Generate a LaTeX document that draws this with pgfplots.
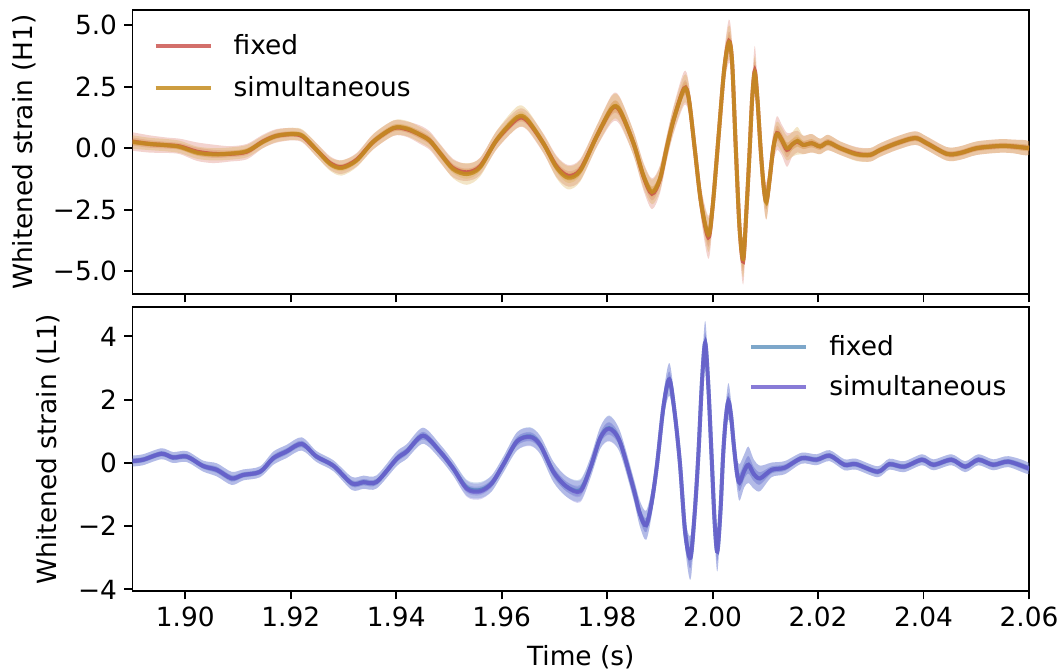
\documentclass[border=0pt]{standalone}
\usepackage{fontspec}
\setmainfont{DejaVu Sans}
\usepackage{pgfplots}
\pgfplotsset{compat=1.18}
\usepackage{pgfplotstable}

\definecolor{hfixed}{RGB}{200,75,70}
\definecolor{hsim}{RGB}{196,140,30}
\definecolor{hfixedband}{RGB}{215,110,95}
\definecolor{hsimband}{RGB}{215,170,70}
\definecolor{lfixed}{RGB}{70,130,180}
\definecolor{lsim}{RGB}{106,90,205}
\definecolor{lfixedband}{RGB}{90,140,200}
\definecolor{lsimband}{RGB}{120,110,215}

% H1 whitened strain: time, fixed, fixed half-width, simultaneous, simultaneous half-width
\pgfplotstableread{
t hf hfw hs hsw
1.8900 0.27 0.30 0.25 0.22
1.8933 0.17 0.28 0.17 0.20
1.8965 0.12 0.25 0.12 0.20
1.8990 0.07 0.25 0.05 0.20
1.9022 -0.14 0.30 -0.18 0.20
1.9053 -0.23 0.30 -0.25 0.20
1.9085 -0.23 0.25 -0.22 0.20
1.9117 -0.14 0.25 -0.12 0.20
1.9147 0.27 0.22 0.25 0.20
1.9173 0.50 0.22 0.50 0.20
1.9204 0.57 0.20 0.58 0.20
1.9223 0.47 0.20 0.50 0.20
1.9249 -0.07 0.22 -0.07 0.22
1.9275 -0.61 0.22 -0.65 0.22
1.9297 -0.77 0.22 -0.80 0.25
1.9325 -0.47 0.22 -0.50 0.22
1.9357 0.27 0.25 0.27 0.25
1.9395 0.81 0.25 0.82 0.25
1.9420 0.77 0.25 0.80 0.25
1.9445 0.55 0.30 0.55 0.25
1.9464 0.30 0.30 0.30 0.25
1.9483 -0.20 0.30 -0.20 0.28
1.9508 -0.81 0.30 -0.85 0.30
1.9534 -0.98 0.28 -1.05 0.35
1.9559 -0.74 0.28 -0.78 0.30
1.9591 0.34 0.30 0.35 0.30
1.9629 1.18 0.30 1.25 0.35
1.9648 1.12 0.30 1.17 0.32
1.9679 0.20 0.32 0.20 0.30
1.9704 -0.74 0.35 -0.78 0.35
1.9726 -1.12 0.35 -1.20 0.38
1.9749 -0.88 0.35 -0.92 0.35
1.9780 0.47 0.35 0.47 0.35
1.9809 1.60 0.45 1.62 0.40
1.9824 1.52 0.45 1.55 0.40
1.9850 0.20 0.40 0.20 0.40
1.9869 -1.15 0.45 -1.12 0.40
1.9885 -1.85 0.50 -1.78 0.40
1.9900 -1.28 0.45 -1.25 0.40
1.9913 0.00 0.40 0.00 0.40
1.9926 1.15 0.45 1.15 0.40
1.9946 2.43 0.55 2.40 0.45
1.9955 2.00 0.50 2.00 0.45
1.9966 0.00 0.40 0.00 0.40
1.9978 -2.20 0.50 -2.20 0.45
1.9992 -3.62 0.70 -3.52 0.55
2.0000 -2.40 0.55 -2.40 0.50
2.0011 0.40 0.45 0.40 0.45
2.0022 3.20 0.55 3.20 0.50
2.0031 4.35 0.70 4.30 0.55
2.0037 3.50 0.60 3.50 0.50
2.0044 0.00 0.45 0.00 0.45
2.0051 -3.20 0.60 -3.20 0.55
2.0058 -4.60 0.75 -4.50 0.60
2.0064 -2.60 0.60 -2.60 0.55
2.0070 -0.20 0.45 -0.20 0.45
2.0075 2.00 0.55 2.00 0.50
2.0080 3.15 0.80 3.05 0.55
2.0085 2.00 0.60 2.00 0.50
2.0091 0.00 0.45 0.00 0.45
2.0097 -1.60 0.55 -1.60 0.50
2.0102 -2.15 0.60 -2.20 0.55
2.0108 -1.30 0.55 -1.30 0.50
2.0115 0.00 0.50 0.00 0.45
2.0122 0.61 0.55 0.58 0.40
2.0131 0.34 0.50 0.34 0.40
2.0141 -0.07 0.55 0.00 0.40
2.0151 0.15 0.40 0.15 0.40
2.0161 0.27 0.35 0.30 0.45
2.0172 0.13 0.30 0.13 0.30
2.0188 0.20 0.30 0.20 0.30
2.0204 0.07 0.25 0.07 0.25
2.0219 0.23 0.25 0.23 0.25
2.0242 0.00 0.22 0.00 0.22
2.0273 -0.23 0.22 -0.25 0.22
2.0299 -0.27 0.22 -0.27 0.22
2.0318 -0.07 0.22 -0.07 0.22
2.0349 0.20 0.22 0.20 0.22
2.0384 0.41 0.22 0.41 0.22
2.0406 0.20 0.22 0.20 0.22
2.0444 -0.23 0.22 -0.23 0.22
2.0469 -0.20 0.22 -0.20 0.22
2.0501 0.00 0.22 0.00 0.22
2.0545 0.09 0.22 0.09 0.22
2.0570 0.07 0.22 0.07 0.22
2.0600 0.00 0.22 0.00 0.22
}\hone

% L1 whitened strain: time, fixed, fixed half-width, simultaneous, simultaneous half-width
\pgfplotstableread{
t lf lfw ls lsw
1.8900 0.06 0.15 0.06 0.15
1.8920 0.10 0.15 0.10 0.15
1.8955 0.29 0.15 0.29 0.15
1.8977 0.17 0.15 0.17 0.15
1.9003 0.20 0.15 0.20 0.15
1.9034 -0.10 0.15 -0.10 0.15
1.9060 -0.22 0.18 -0.22 0.18
1.9088 -0.49 0.18 -0.49 0.18
1.9110 -0.38 0.15 -0.38 0.15
1.9142 -0.28 0.15 -0.28 0.15
1.9167 0.15 0.18 0.15 0.18
1.9192 0.36 0.18 0.36 0.18
1.9221 0.60 0.18 0.60 0.18
1.9249 0.20 0.15 0.20 0.15
1.9281 -0.09 0.15 -0.09 0.15
1.9316 -0.65 0.18 -0.65 0.18
1.9338 -0.61 0.18 -0.61 0.18
1.9363 -0.60 0.18 -0.60 0.18
1.9401 0.13 0.20 0.13 0.20
1.9420 0.36 0.20 0.36 0.20
1.9451 0.86 0.22 0.86 0.22
1.9483 0.36 0.20 0.36 0.20
1.9508 -0.17 0.20 -0.17 0.20
1.9534 -0.79 0.22 -0.82 0.22
1.9559 -0.86 0.22 -0.90 0.22
1.9581 -0.65 0.22 -0.65 0.22
1.9603 -0.06 0.22 -0.06 0.22
1.9629 0.68 0.25 0.68 0.25
1.9654 0.84 0.25 0.82 0.25
1.9673 0.57 0.25 0.57 0.25
1.9698 -0.28 0.28 -0.28 0.28
1.9723 -0.75 0.28 -0.75 0.28
1.9749 -0.86 0.30 -0.90 0.30
1.9768 -0.17 0.28 -0.17 0.28
1.9787 0.79 0.30 0.79 0.30
1.9804 1.10 0.35 1.08 0.35
1.9824 0.68 0.30 0.68 0.30
1.9850 -0.81 0.30 -0.81 0.30
1.9862 -1.60 0.35 -1.60 0.35
1.9874 -1.97 0.40 -1.97 0.40
1.9885 -1.20 0.35 -1.20 0.35
1.9895 0.00 0.30 0.00 0.30
1.9907 1.80 0.35 1.80 0.35
1.9918 2.64 0.45 2.64 0.45
1.9928 1.60 0.35 1.60 0.35
1.9938 0.00 0.30 0.00 0.30
1.9948 -2.20 0.40 -2.20 0.40
1.9958 -3.00 0.60 -3.00 0.60
1.9966 -1.60 0.45 -1.60 0.45
1.9973 0.25 0.35 0.25 0.35
1.9980 2.60 0.45 2.60 0.45
1.9986 3.80 0.60 3.80 0.60
1.9992 2.40 0.45 2.40 0.45
1.9998 0.25 0.35 0.25 0.35
2.0004 -1.90 0.40 -1.90 0.40
2.0009 -2.80 0.55 -2.80 0.55
2.0015 -1.50 0.40 -1.50 0.40
2.0020 0.25 0.35 0.25 0.35
2.0025 1.40 0.40 1.40 0.40
2.0030 1.95 0.50 1.95 0.50
2.0035 1.50 0.40 1.50 0.40
2.0040 0.60 0.35 0.60 0.35
2.0046 -0.30 0.40 -0.30 0.40
2.0051 -0.62 0.50 -0.62 0.50
2.0060 -0.25 0.45 -0.25 0.45
2.0068 -0.06 0.50 -0.06 0.50
2.0078 -0.35 0.40 -0.35 0.40
2.0090 -0.49 0.35 -0.49 0.35
2.0112 -0.22 0.20 -0.22 0.20
2.0137 -0.15 0.18 -0.15 0.18
2.0169 0.15 0.15 0.15 0.15
2.0197 0.10 0.15 0.10 0.15
2.0222 0.23 0.15 0.23 0.15
2.0250 -0.06 0.15 -0.06 0.15
2.0272 -0.04 0.15 -0.04 0.15
2.0313 -0.28 0.15 -0.28 0.15
2.0335 -0.04 0.15 -0.04 0.15
2.0363 -0.12 0.15 -0.12 0.15
2.0397 0.10 0.15 0.10 0.15
2.0419 -0.06 0.15 -0.06 0.15
2.0453 0.10 0.15 0.10 0.15
2.0479 -0.12 0.15 -0.12 0.15
2.0504 0.10 0.15 0.10 0.15
2.0532 -0.06 0.15 -0.06 0.15
2.0561 0.04 0.15 0.04 0.15
2.0600 -0.18 0.15 -0.18 0.15
}\lone

% Band outline as one closed polygon: upper edge forward in time, lower edge back.
% #1 new table, #2 scratch table, #3 source, #4 value column, #5 half-width column, #6 scale
\newcommand{\makeband}[6]{%
  \pgfplotstablesort[sort key=t, sort cmp={float <}]{#1}{#3}%
  \pgfplotstablesort[sort key=t, sort cmp={float >}]{#2}{#3}%
  \pgfplotstablecreatecol[create col/expr={\thisrow{#4}+#6*\thisrow{#5}}]{b}{#1}%
  \pgfplotstablecreatecol[create col/expr={\thisrow{#4}-#6*\thisrow{#5}}]{b}{#2}%
  \pgfplotstablevertcat{#1}{#2}%
}
\makeband{\bHFo}{\sHFo}{\hone}{hf}{hfw}{1.25}
\makeband{\bHFi}{\sHFi}{\hone}{hf}{hfw}{0.55}
\makeband{\bHSo}{\sHSo}{\hone}{hs}{hsw}{1.25}
\makeband{\bHSi}{\sHSi}{\hone}{hs}{hsw}{0.55}
\makeband{\bLFo}{\sLFo}{\lone}{lf}{lfw}{1.15}
\makeband{\bLFi}{\sLFi}{\lone}{lf}{lfw}{0.55}
\makeband{\bLSo}{\sLSo}{\lone}{ls}{lsw}{1.15}
\makeband{\bLSi}{\sLSi}{\lone}{ls}{lsw}{0.55}

\newcommand{\labelfont}{\fontsize{13.2}{15.8}\selectfont}

\pgfplotsset{
  strainaxis/.style={
    scale only axis, width=448.25pt, height=142pt,
    xmin=1.89, xmax=2.06,
    xtick={1.90,1.92,1.94,1.96,1.98,2.00,2.02,2.04,2.06},
    tick align=outside, xtick pos=bottom, ytick pos=left,
    major tick length=4.2pt,
    every tick/.style={black, line width=0.96pt},
    axis line style={line width=0.96pt},
    tick label style={font=\labelfont},
    every axis x label/.style={font=\labelfont},
    every axis y label/.style={rotate=90, anchor=center, font=\labelfont},
    legend cell align=left,
    legend image code/.code={\draw[##1, line width=1.8pt] (0pt,0pt) -- (27.5pt,0pt); \path (33pt,0pt);},
    legend style={draw=none, fill=none, inner sep=0pt, row sep=5.5pt,
      font=\labelfont,
      nodes={inner xsep=5pt, inner ysep=2pt}},
  },
  band/.style={draw=none, fill=#1, fill opacity=0.3, smooth, forget plot},
  strain/.style={smooth, color=#1, line width=2pt},
}

\begin{document}
\begin{tikzpicture}
\useasboundingbox (0,0) rectangle (531pt,336pt);

% H1 detector
\begin{axis}[strainaxis,
  at={(66.25pt,189pt)}, anchor=south west,
  ymin=-5.92, ymax=5.61,
  ytick={-5,-2.5,0,2.5,5},
  yticklabels={−5.0,−2.5,0.0,2.5,5.0},
  xticklabels={},
  ylabel={Whitened strain (H1)},
  ylabel style={at={(rel axis cs:-0.121,0.5)}},
  legend style={at={(rel axis cs:0,1)}, anchor=north west, xshift=10.5pt, yshift=-10pt},
]
\addplot[band=hfixedband] table[x=t, y=b] {\bHFo};
\addplot[band=hfixedband] table[x=t, y=b] {\bHFi};
\addplot[band=hsimband] table[x=t, y=b] {\bHSo};
\addplot[band=hsimband] table[x=t, y=b] {\bHSi};
\addplot[strain=hfixed, opacity=0.8] table[x=t, y=hf] {\hone};
\addlegendentry{fixed}
\addplot[strain=hsim, opacity=0.85] table[x=t, y=hs] {\hone};
\addlegendentry{simultaneous}
\end{axis}

% L1 detector
\begin{axis}[strainaxis,
  at={(66.25pt,40.5pt)}, anchor=south west,
  ymin=-4.05, ymax=4.93,
  ytick={-4,-2,0,2,4},
  yticklabels={−4,−2,0,2,4},
  xticklabels={1.90,1.92,1.94,1.96,1.98,2.00,2.02,2.04,2.06},
  xlabel={Time (s)},
  xlabel style={at={(rel axis cs:0.5,0)}, anchor=center, yshift=-33pt},
  ylabel={Whitened strain (L1)},
  ylabel style={at={(rel axis cs:-0.0943,0.5)}},
  legend style={at={(rel axis cs:0.68,1)}, anchor=north west, xshift=3.5pt, yshift=-12pt, row sep=4.5pt},
]
\addplot[band=lfixedband] table[x=t, y=b] {\bLFo};
\addplot[band=lfixedband] table[x=t, y=b] {\bLFi};
\addplot[band=lsimband] table[x=t, y=b] {\bLSo};
\addplot[band=lsimband] table[x=t, y=b] {\bLSi};
\addplot[strain=lfixed, opacity=0.7] table[x=t, y=lf] {\lone};
\addlegendentry{fixed}
\addplot[strain=lsim, opacity=0.8] table[x=t, y=ls] {\lone};
\addlegendentry{simultaneous}
\end{axis}
\end{tikzpicture}
\end{document}
